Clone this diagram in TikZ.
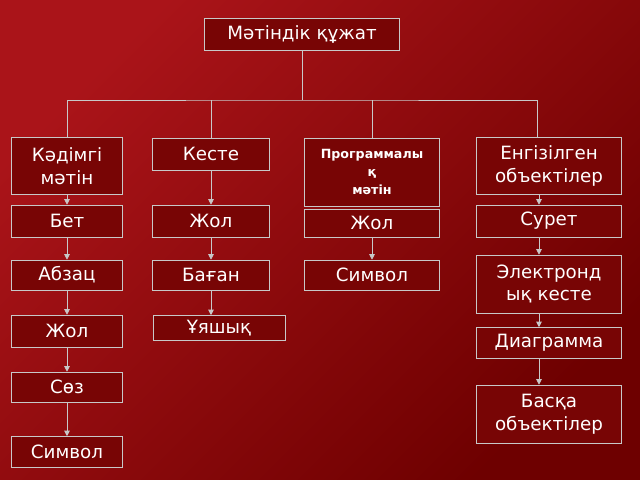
\documentclass[tikz,border=0pt]{standalone}
\usepackage{fontspec}
\setmainfont{DejaVu Sans}
\usetikzlibrary{positioning, arrows.meta}
\definecolor{BgDark}{RGB}{110,0,0}
\definecolor{BgLight}{RGB}{170,20,25}
\definecolor{BoxFill}{RGB}{120,5,5}
\definecolor{LineGray}{RGB}{200,200,200}
\tikzset{
  cell/.style={draw=LineGray, fill=BoxFill, text=white, align=center, inner sep=1pt,
    font=\fontsize{13}{16}\selectfont},
  link/.style={LineGray, line width=0.6pt},
  arrow/.style={LineGray, line width=0.6pt, -{Triangle[length=4pt,width=4pt]}}
}
\begin{document}
\begin{tikzpicture}[x=0.025cm, y=-0.025cm]
    % background
    \shade[left color=BgLight, right color=BgDark, shading angle=45] (0,0) rectangle (640,480);
    \useasboundingbox (0,0) rectangle (640,480);

    % top
    \node[cell, minimum width=195*0.025cm, minimum height=32*0.025cm] (doc) at (302,34) {Мәтіндік құжат};

    % first row
    \node[cell, minimum width=111*0.025cm, minimum height=57*0.025cm] (plain) at (67,166) {Кәдімгі\\мәтін};
    \node[cell, minimum width=117*0.025cm, minimum height=32*0.025cm] (table) at (211,154) {Кесте};
    \node[cell, minimum width=135*0.025cm, minimum height=68*0.025cm, font=\bfseries\fontsize{9}{13}\selectfont] (prog) at (372,172) {Программалы\\қ\\мәтін};
    \node[cell, minimum width=145*0.025cm, minimum height=57*0.025cm] (embed) at (549,166) {Енгізілген\\объектілер};

    % second row
    \node[cell, minimum width=111*0.025cm, minimum height=32*0.025cm] (page) at (67,221) {Бет};
    \node[cell, minimum width=117*0.025cm, minimum height=32*0.025cm] (row) at (211,221) {Жол};
    \node[cell, minimum width=135*0.025cm, minimum height=28*0.025cm] (progrow) at (372,223) {Жол};
    \node[cell, minimum width=145*0.025cm, minimum height=32*0.025cm] (pic) at (549,221) {Сурет};

    % third row
    \node[cell, minimum width=111*0.025cm, minimum height=30*0.025cm] (para) at (67,275) {Абзац};
    \node[cell, minimum width=117*0.025cm, minimum height=30*0.025cm] (col) at (211,275) {Баған};
    \node[cell, minimum width=135*0.025cm, minimum height=30*0.025cm] (progsym) at (372,275) {Символ};
    \node[cell, minimum width=145*0.025cm, minimum height=58*0.025cm] (sheet) at (549,284) {Электронд\\ық кесте};

    % fourth row
    \node[cell, minimum width=111*0.025cm, minimum height=32*0.025cm] (line) at (67,331) {Жол};
    \node[cell, minimum width=132*0.025cm, minimum height=25*0.025cm] (cellb) at (219,328) {Ұяшық};
    \node[cell, minimum width=145*0.025cm, minimum height=31*0.025cm] (chart) at (549,343) {Диаграмма};

    % lower
    \node[cell, minimum width=111*0.025cm, minimum height=30*0.025cm] (word) at (67,387) {Сөз};
    \node[cell, minimum width=145*0.025cm, minimum height=58*0.025cm] (other) at (549,414) {Басқа\\объектілер};
    \node[cell, minimum width=111*0.025cm, minimum height=31*0.025cm] (sym) at (67,452) {Символ};

    % tree from the top
    \coordinate (hub) at (302,100);
    \draw[link] (doc.south) -- (hub);
    \draw[link] (plain.north) |- (hub) -| ([xshift=-0.3cm]embed.north);
    \draw[link] (table.north) -- (table.north |- hub);
    \draw[link] (prog.north) -- (prog.north |- hub);

    % columns
    \draw[arrow] (plain) -- (page);
    \draw[arrow] (page) -- (para);
    \draw[arrow] (para) -- (line);
    \draw[arrow] (line) -- (word);
    \draw[arrow] (word) -- (sym);
    \draw[arrow] (table) -- (row);
    \draw[arrow] (row) -- (col);
    \draw[arrow] (col.south) -- (col.south |- cellb.north);
    \draw[arrow] (progrow) -- (progsym);
    \draw[arrow] ([xshift=-0.25cm]embed.south) -- ([xshift=-0.25cm]pic.north);
    \draw[arrow] ([xshift=-0.25cm]pic.south) -- ([xshift=-0.25cm]sheet.north);
    \draw[arrow] ([xshift=-0.25cm]sheet.south) -- ([xshift=-0.25cm]chart.north);
    \draw[arrow] ([xshift=-0.25cm]chart.south) -- ([xshift=-0.25cm]other.north);
\end{tikzpicture}
\end{document}
